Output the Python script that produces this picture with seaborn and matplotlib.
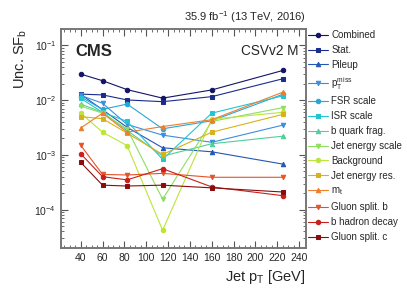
import numpy as np
import pandas as pd
import matplotlib
matplotlib.use("Agg")
import matplotlib.pyplot as plt
from matplotlib.ticker import MultipleLocator, LogLocator, NullFormatter
import seaborn as sns

# jet pT bin centres [GeV]
pt = [40, 60, 82.5, 115, 160, 225]

sources = ["Combined", "Stat.", "Pileup", "$p_T^{miss}$", "FSR scale", "ISR scale",
           "b quark frag.", "Jet energy scale", "Background", "Jet energy res.",
           "$m_t$", "Gluon split. b", "b hadron decay", "Gluon split. c"]

combined  = [0.0300, 0.0227, 0.0156, 0.0109, 0.0154, 0.0349]
stat      = [0.0129, 0.0125, 0.0101, 0.0094, 0.0116, 0.0246]
pileup    = [0.0128, 0.0067, 0.0032, 0.00135, 0.00114, 0.00068]
ptmiss    = [0.0122, 0.0088, 0.0036, 0.0023, 0.0017, 0.0035]
fsr       = [0.0115, 0.0068, 0.0085, 0.0030, 0.0042, 0.0128]
isr       = [0.0108, 0.0060, 0.0041, 0.00083, 0.0058, 0.0120]
bfrag     = [0.0085, 0.0060, 0.0028, 0.00095, 0.0016, 0.0022]
jes       = [0.0078, 0.0058, 0.0030, 0.000155, 0.0041, 0.0073]
background = [0.0058, 0.0026, 0.00148, 0.000042, 0.0045, 0.0060]
jer       = [0.0050, 0.0046, 0.0025, 0.00102, 0.0026, 0.0055]
mtop      = [0.0031, 0.0058, 0.0026, 0.0033, 0.0044, 0.0140]
gsplit_b  = [0.00150, 0.00044, 0.00043, 0.00046, 0.00039, 0.00039]
bhadron   = [0.00105, 0.00040, 0.00035, 0.00056, 0.00026, 0.00018]
gsplit_c  = [0.00073, 0.00028, 0.00027, 0.00028, 0.00025, 0.00021]

values = [combined, stat, pileup, ptmiss, fsr, isr, bfrag, jes,
          background, jer, mtop, gsplit_b, bhadron, gsplit_c]

colors = ["#141466", "#1a2d8c", "#2456b4", "#3a8ee0", "#2aa6d6", "#24c4d2",
          "#4ed09a", "#8ede62", "#bce43a", "#d6b21c", "#ec7e2c", "#e4542a",
          "#c8201a", "#8a0c0c"]
markers = ["o", "s", "^", "v", "o", "s", "^", "v", "o", "s", "^", "v", "o", "s"]

df = pd.concat([pd.DataFrame({"pt": pt, "unc": v, "source": s})
                for s, v in zip(sources, values)])

sns.set_style("ticks")
plt.rcParams["font.family"] = ["Liberation Sans", "DejaVu Sans"]
plt.rcParams["mathtext.fontset"] = "custom"
plt.rcParams["mathtext.rm"] = "Liberation Sans"
plt.rcParams["mathtext.it"] = "Liberation Sans"

fig = plt.figure(figsize=(4.07, 2.93), dpi=100)
ax = fig.add_axes([0.150, 0.154, 0.601, 0.747])

for s, c, m in zip(sources, colors, markers):
    sns.lineplot(data=df[df["source"] == s], x="pt", y="unc", color=c, marker=m,
                 markersize=3.2, markeredgecolor=c, linewidth=0.8, label=s, ax=ax)

ax.set_yscale("log")
ax.set_xlim(22, 246)
ax.set_ylim(2e-5, 0.2)
ax.xaxis.set_major_locator(MultipleLocator(20))
ax.xaxis.set_minor_locator(MultipleLocator(5))
ax.yaxis.set_minor_locator(LogLocator(base=10, subs=np.arange(2, 10)))
ax.yaxis.set_minor_formatter(NullFormatter())
ax.tick_params(which="both", direction="in", top=True, right=True, labelsize=7.5,
               color="#555555")
ax.tick_params(which="major", length=5)
ax.tick_params(which="minor", length=2.5)
for sp in ax.spines.values():
    sp.set_color("#777777")
    sp.set_linewidth(1.4)

ax.set_xlabel("Jet $p_T$ [GeV]", fontsize=10.5, loc="right")
ax.set_ylabel("Unc. SF$_b$", fontsize=10.5, loc="top")
ax.text(0.06, 0.93, "CMS", transform=ax.transAxes, fontsize=12, fontweight="bold",
        va="top", ha="left")
ax.text(0.97, 0.93, "CSVv2 M", transform=ax.transAxes, fontsize=9.8,
        va="top", ha="right")
ax.text(1.0, 1.02, "35.9 fb$^{-1}$ (13 TeV, 2016)", transform=ax.transAxes,
        fontsize=8, va="bottom", ha="right")

ax.legend(loc="upper left", bbox_to_anchor=(0.757, 0.897),
          bbox_transform=fig.transFigure, frameon=False, fontsize=7,
          handlelength=2.0, handletextpad=0.4, labelspacing=0.5,
          borderaxespad=0, borderpad=0)

fig.savefig("out.png", dpi=100)
